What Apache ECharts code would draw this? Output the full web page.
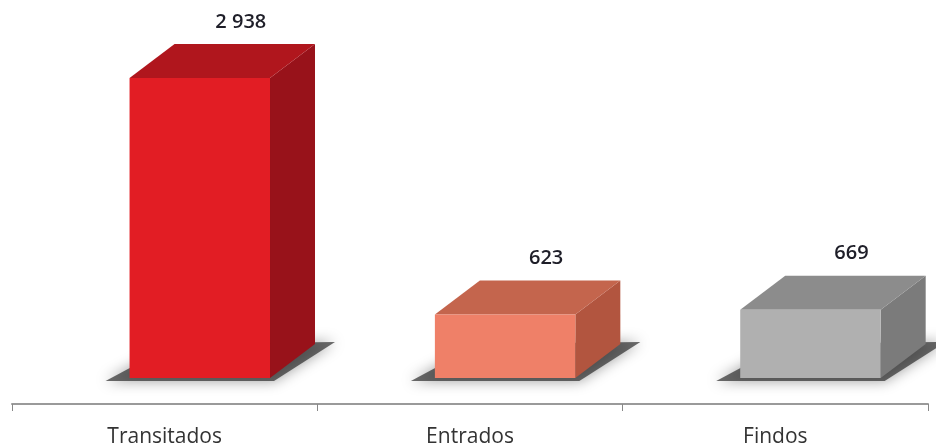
<!DOCTYPE html>
<html>
<head>
<meta charset="utf-8">
<script src="https://cdn.jsdelivr.net/npm/echarts@6/dist/echarts.min.js"></script>
<style>html,body{margin:0;padding:0;background:#fff}#c{width:936px;height:448px}</style>
</head>
<body>
<div id="c"></div>
<script>
const categories = ['Transitados', 'Entrados', 'Findos'];
const values = [2938, 623, 669];
const valueLabels = ['2 938', '623', '669'];
const frontColors = ['#e21d24', '#ef8068', '#b0b0b0'];
const sideColors = ['#98121a', '#b2553f', '#7b7b7b'];
const topColors = ['#b0161d', '#c4654d', '#8c8c8c'];

const chart = echarts.init(document.getElementById('c'));
const DX = 45, DY = 34;

function renderItem(params, api) {
  const idx = api.value(0);
  const val = api.value(1);
  const top = api.coord([idx, val]);
  const base = api.coord([idx, 0]);
  const band = api.size([1, 0])[0];
  const w = band * 0.46;
  const cx = top[0] + band * 0.115;
  const x0 = cx - w / 2, x1 = cx + w / 2;
  const yt = top[1], yb = base[1];
  return {
    type: 'group',
    children: [
      {
        type: 'polygon',
        shape: { points: [[x0 - 24, yb + 3], [x1 + 4, yb + 3], [x1 + DX + 20, yb - DY - 2], [x0 + DX, yb - DY]] },
        style: { fill: 'rgba(45,45,45,0.7)', shadowBlur: 14, shadowColor: 'rgba(0,0,0,0.55)' },
        z2: 0
      },
      {
        type: 'polygon',
        shape: { points: [[x1, yt], [x1 + DX, yt - DY], [x1 + DX, yb - DY], [x1, yb]] },
        style: { fill: sideColors[idx] },
        z2: 1
      },
      {
        type: 'polygon',
        shape: { points: [[x0, yt], [x0 + DX, yt - DY], [x1 + DX, yt - DY], [x1, yt]] },
        style: { fill: topColors[idx] },
        z2: 1
      },
      {
        type: 'rect',
        shape: { x: x0, y: yt, width: w, height: yb - yt },
        style: { fill: frontColors[idx] },
        z2: 2
      },
      {
        type: 'text',
        x: cx + 41, y: yt - DY - 22,
        style: {
          text: valueLabels[idx], align: 'center', verticalAlign: 'middle',
          font: '600 20px "Open Sans", sans-serif', fill: '#1e1e28'
        },
        z2: 3
      }
    ]
  };
}

chart.setOption({
  animation: false,
  backgroundColor: '#fff',
  grid: { left: 12, right: 8, bottom: 70, top: 378 - 300 * 3000 / 2938 },
  xAxis: {
    type: 'category',
    data: categories,
    offset: 26,
    boundaryGap: true,
    axisLine: { onZero: false, lineStyle: { color: '#9a9a9a', width: 2 } },
    axisTick: { show: true, interval: 0, length: 7, lineStyle: { color: '#888', width: 1 } },
    axisLabel: { margin: 23, color: '#333', fontSize: 21, fontFamily: '"Open Sans", sans-serif' }
  },
  yAxis: { type: 'value', min: 0, max: 3000, show: false, splitLine: { show: false } },
  series: [{
    type: 'custom',
    renderItem: renderItem,
    clip: false,
    data: categories.map((c, i) => [i, values[i]])
  }]
});
</script>
</body>
</html>
